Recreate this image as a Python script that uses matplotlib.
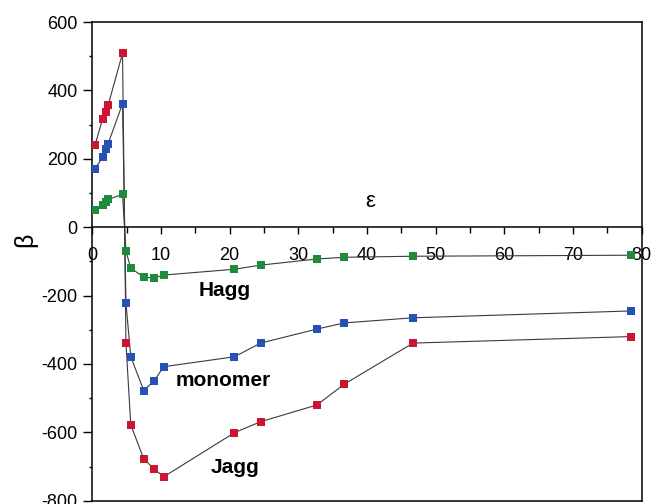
import matplotlib
matplotlib.use('Agg')
import matplotlib.pyplot as plt
from matplotlib.ticker import MultipleLocator

plt.rcParams['font.family'] = ['Liberation Sans', 'DejaVu Sans']
plt.rcParams['axes.unicode_minus'] = False

# dielectric constant (epsilon) of the solvents
eps = [0.4, 1.5, 2.0, 2.3, 4.4, 4.9, 5.6, 7.5, 9.0, 10.4,
       20.7, 24.5, 32.7, 36.7, 46.7, 78.4]

# beta values for each species
jagg = [240, 317, 337, 356, 509, -339, -578, -678, -707, -730,
        -601, -569, -520, -459, -339, -320]
monomer = [171, 205, 230, 244, 361, -222, -379, -478, -449, -408,
           -379, -339, -298, -280, -265, -245]
hagg = [50, 64, 74, 81, 96, -70, -120, -146, -149, -140,
        -123, -111, -93, -88, -85, -82]

series = [('Jagg', jagg, '#cc1530'), ('monomer', monomer, '#2652b3'),
          ('Hagg', hagg, '#1f8b3d')]

fig = plt.figure(figsize=(6.51, 5.04), dpi=100)
ax = fig.add_axes([0.1418, 0.0065, 0.8439, 0.9498])

for name, vals, col in series:
    ax.plot(eps, vals, color='#3a3a3a', lw=0.8, zorder=2)
    ax.plot(eps, vals, ls='none', marker='s', ms=6, mfc=col, mec=col,
            mew=0, zorder=3)

ax.set_xlim(0, 80)
ax.set_ylim(-800, 600)

# x axis drawn through zero, frame closed at bottom
ax.spines['bottom'].set_position(('data', 0))
for s in ax.spines.values():
    s.set_linewidth(1.1)
ax.plot([0, 1], [0, 0], transform=ax.transAxes, color='black', lw=1.1,
        clip_on=False)

ax.xaxis.set_major_locator(MultipleLocator(10))
ax.xaxis.set_minor_locator(MultipleLocator(5))
ax.yaxis.set_major_locator(MultipleLocator(200))
ax.yaxis.set_minor_locator(MultipleLocator(100))
ax.tick_params(axis='x', which='major', direction='out', length=5, width=1,
               labelsize=13, pad=9)
ax.tick_params(axis='x', which='minor', direction='out', length=4, width=1)
ax.tick_params(axis='y', which='major', direction='out', length=6.5, width=1,
               labelsize=13, pad=4)
ax.tick_params(axis='y', which='minor', direction='out', length=2.5, width=1)

ax.set_xlabel('ε', fontsize=16, va='center')
ax.xaxis.set_label_coords(0.505, 0.625)
ax.set_ylabel('β', fontsize=18, va='center')
ax.yaxis.set_label_coords(-0.1225, 0.544)

ax.text(19.3, -185, 'Hagg', fontsize=15, fontweight='bold',
        ha='center', va='center')
ax.text(19.0, -448, 'monomer', fontsize=15, fontweight='bold',
        ha='center', va='center')
ax.text(20.8, -702, 'Jagg', fontsize=15, fontweight='bold',
        ha='center', va='center')

fig.savefig('out.png', dpi=100)
